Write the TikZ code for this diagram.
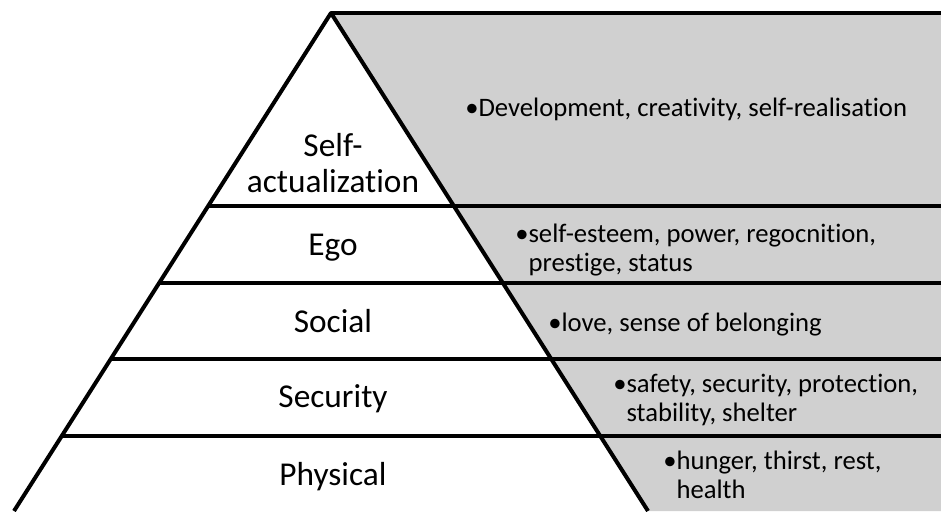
\documentclass[tikz,border=0pt]{standalone}
\usepackage{fontspec}
\setmainfont{Carlito}[Ligatures=NoCommon]
\definecolor{panelgray}{RGB}{208,208,208}
\begin{document}
\begin{tikzpicture}[x=0.75pt,y=-0.75pt,
  edge/.style={line width=3pt, line join=round},
  tier/.style={font=\fontsize{25}{27}\selectfont, anchor=base, inner sep=0pt},
  need/.style={font=\fontsize{20}{22}\selectfont, anchor=base west, inner sep=0pt}]
\useasboundingbox (0,0) rectangle (941,511);
% pyramid corners and right panel
\coordinate (apex) at (331,13);
\coordinate (bl) at (14,511);
\coordinate (br) at (648,511);
\coordinate (tr) at (941,13);
\coordinate (brr) at (941,511);
\fill[panelgray] (apex) -- (tr) -- (brr) -- (br) -- cycle;
% tier dividers, from the left side of the pyramid to the right border
\foreach \y/\n in {206/a,283/b,359/c,436/d} {
  \pgfmathsetmacro\xl{331-(\y-13)/498*317}
  \coordinate (L\n) at (\xl,\y);
  \coordinate (R\n) at (941,\y);
  \draw[edge] (L\n) -- (R\n);
}
\draw[edge] (bl) -- (apex) -- (br);
\draw[edge] (apex) -- (tr);
% tier names
\node[tier] (selfact) at (333,156) {\begin{tabular}[t]{@{}c@{}}Self-\\actualization\end{tabular}};
\node[tier] (ego) at (333,255) {Ego};
\node[tier] (social) at (333,332) {Social};
\node[tier] (security) at (333,407) {Security};
\node[tier] (physical) at (333,485) {Physical};
% needs of each tier
\node[need] (dselfact) at (465,116) {•Development, creativity, self-realisation};
\node[need] (dego) at (515,242) {\begin{tabular}[t]{@{}l@{}l@{}}•&self-esteem, power, regocnition,\\&prestige, status\end{tabular}};
\node[need] (dsocial) at (548,331) {•love, sense of belonging};
\node[need] (dsecurity) at (613,392) {\begin{tabular}[t]{@{}l@{}l@{}}•&safety, security, protection,\\&stability, shelter\end{tabular}};
\node[need] (dphysical) at (663,469) {\begin{tabular}[t]{@{}l@{}l@{}}•&hunger, thirst, rest,\\&health\end{tabular}};
\end{tikzpicture}
\end{document}
